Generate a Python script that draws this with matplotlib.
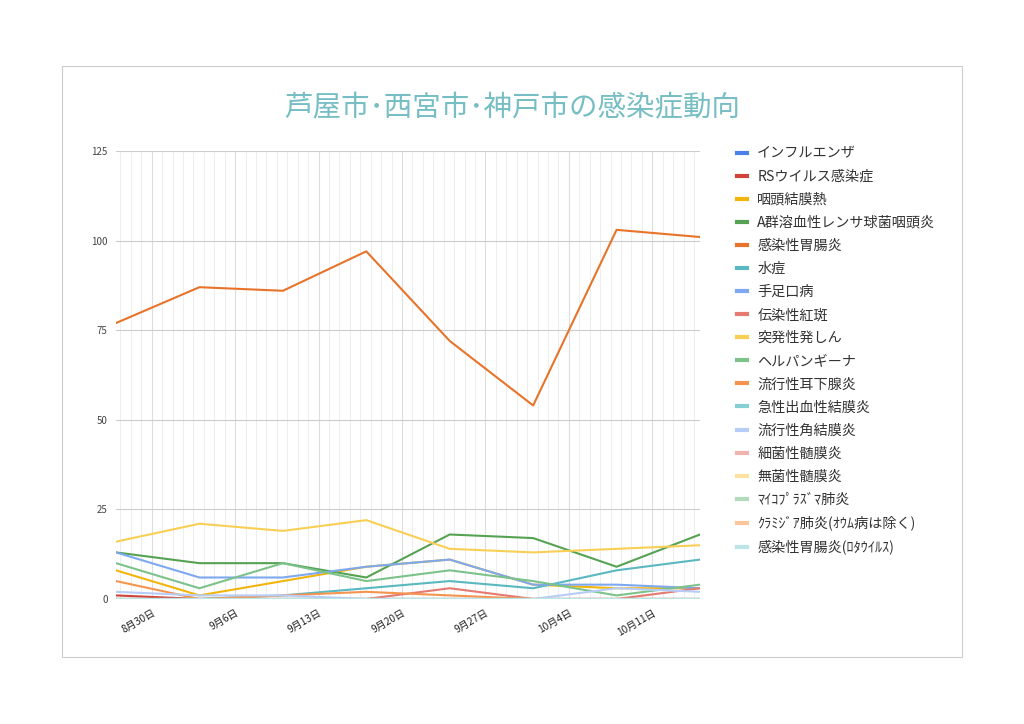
import matplotlib.pyplot as plt
import matplotlib.dates as mdates
from matplotlib.patches import Rectangle
import numpy as np
import datetime as dt

plt.rcParams['font.family'] = ['Noto Sans CJK JP', 'DejaVu Sans']

# weekly report dates
dates = [dt.date(2020, 8, 27) + dt.timedelta(days=7 * i) for i in range(8)]
tick_dates = [dt.date(2020, 8, 30) + dt.timedelta(days=7 * i) for i in range(7)]
tick_labels = ["8月30日", "9月6日", "9月13日", "9月20日", "9月27日", "10月4日", "10月11日"]

names = [
    "インフルエンザ", "RSウイルス感染症", "咽頭結膜熱", "A群溶血性レンサ球菌咽頭炎",
    "感染性胃腸炎", "水痘", "手足口病", "伝染性紅斑", "突発性発しん", "ヘルパンギーナ",
    "流行性耳下腺炎", "急性出血性結膜炎", "流行性角結膜炎", "細菌性髄膜炎", "無菌性髄膜炎",
    "ﾏｲｺﾌﾟﾗｽﾞﾏ肺炎", "ｸﾗﾐｼﾞｱ肺炎(ｵｳﾑ病は除く)", "感染性胃腸炎(ﾛﾀｳｲﾙｽ)",
]
influenza = [0, 0, 0, 0, 0, 0, 0, 0]
rs_virus = [1, 0, 0, 0, 0, 0, 0, 0]
pharyngoconj = [8, 1, 5, 9, 11, 4, 3, 3]
strep_a = [13, 10, 10, 6, 18, 17, 9, 18]
gastro = [77, 87, 86, 97, 72, 54, 103, 101]
varicella = [0, 0, 1, 3, 5, 3, 8, 11]
hfmd = [13, 6, 6, 9, 11, 4, 4, 3]
erythema = [0, 0, 0, 0, 3, 0, 0, 3]
roseola = [16, 21, 19, 22, 14, 13, 14, 15]
herpangina = [10, 3, 10, 5, 8, 5, 1, 4]
mumps = [5, 0, 1, 2, 1, 0, 0, 0]
hem_conj = [0, 0, 0, 0, 0, 0, 0, 0]
epi_kerato = [2, 1, 1, 0, 0, 0, 3, 2]
bact_mening = [0, 0, 0, 0, 0, 0, 0, 0]
asep_mening = [0, 0, 0, 0, 0, 0, 0, 0]
mycoplasma = [0, 0, 0, 0, 0, 0, 0, 0]
chlamydia = [0, 0, 0, 0, 0, 0, 0, 0]
rota = [0, 0, 0, 0, 0, 0, 0, 0]
series = [influenza, rs_virus, pharyngoconj, strep_a, gastro, varicella, hfmd,
          erythema, roseola, herpangina, mumps, hem_conj, epi_kerato, bact_mening,
          asep_mening, mycoplasma, chlamydia, rota]

colors = ["#4a80e8", "#d0423a", "#f2b50c", "#55a352", "#e8732a", "#5ab8c0",
          "#7ea8f0", "#e47a70", "#f8cf55", "#7cc28a", "#f4944e", "#86cfd4",
          "#b6cdf8", "#f0b4ae", "#fbe29e", "#b2dbbc", "#fbc59c", "#bce5e8"]

fig = plt.figure(figsize=(10.24, 7.24), dpi=100)
fig.patches.append(Rectangle((62 / 1024, 1 - 657 / 724), 900 / 1024, 591 / 724,
                             transform=fig.transFigure, fill=False,
                             edgecolor="#cccccc", linewidth=0.8))

ax = fig.add_axes([116 / 1024, 1 - 599 / 724, 584 / 1024, 448 / 724])
for name, vals, c in zip(names, series, colors):
    ax.plot(dates, vals, color=c, linewidth=1.5, label=name)

ax.set_xlim(dates[0], dates[-1])
ax.set_ylim(0, 125)
ax.set_yticks([0, 25, 50, 75, 100, 125])

ax.set_xticks(tick_dates)
ax.set_xticklabels(tick_labels)
# minor lines every 7/8 day around the weekly majors
start = mdates.date2num(dates[0])
end = mdates.date2num(dates[-1])
first = mdates.date2num(tick_dates[0])
minor = np.arange(first - 3.5, end + 0.01, 7 / 8)
ax.set_xticks(minor[(minor >= start)], minor=True)

ax.grid(axis='y', color="#cccccc", linewidth=0.8)
ax.grid(axis='x', which='major', color="#dddddd", linewidth=0.8)
ax.grid(axis='x', which='minor', color="#eeeeee", linewidth=0.8)
ax.set_axisbelow(True)
ax.axhline(0, color="#999999", linewidth=1.2, zorder=1)

for s in ax.spines.values():
    s.set_visible(False)
ax.tick_params(axis='both', which='both', length=0)
ax.tick_params(axis='y', labelsize=7, colors="#444444", pad=6)
ax.tick_params(axis='x', labelsize=7.3, colors="#222222", pad=6)
for lab in ax.get_xticklabels():
    lab.set_rotation(30)
    lab.set_ha('right')
    lab.set_rotation_mode('anchor')

fig.text(512 / 1024, 1 - 108 / 724, "芦屋市･西宮市･神戸市の感染症動向",
         ha='center', va='center', fontsize=20.5, color="#76BEC4")

leg = fig.legend(loc='upper left', bbox_to_anchor=(731 / 1024, 1 - 141 / 724),
                 frameon=False, fontsize=10.2, handlelength=0.75, handletextpad=0.7,
                 labelspacing=0.64, borderaxespad=0)
for h in leg.get_lines():
    h.set_linewidth(3)
for t in leg.get_texts():
    t.set_color("#333333")

fig.savefig("out.png", dpi=100)
